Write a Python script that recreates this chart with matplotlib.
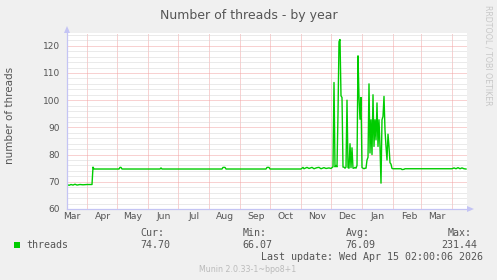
import matplotlib
matplotlib.use('Agg')
import matplotlib.pyplot as plt
import matplotlib.patches as mpatches
import matplotlib.lines as mlines
import pandas as pd

dates = [
    '2025-03-12', '2025-03-14', '2025-03-16', '2025-03-18', '2025-03-20', '2025-03-22',
    '2025-03-25', '2025-03-28', '2025-04-01', '2025-04-06', '2025-04-07', '2025-04-08',
    '2025-05-03', '2025-05-04', '2025-05-05', '2025-05-06', '2025-06-13', '2025-06-14',
    '2025-06-15', '2025-08-14', '2025-08-15', '2025-08-17', '2025-08-18', '2025-09-27',
    '2025-09-28', '2025-09-30', '2025-10-01', '2025-11-01', '2025-11-03', '2025-11-04',
    '2025-11-07', '2025-11-09', '2025-11-12', '2025-11-14', '2025-11-17', '2025-11-19',
    '2025-11-21', '2025-11-24', '2025-11-26', '2025-11-29', '2025-12-01',
    # december / january spikes
    '2025-12-02', '2025-12-03', '2025-12-04', '2025-12-05', '2025-12-06', '2025-12-07',
    '2025-12-08', '2025-12-09', '2025-12-10', '2025-12-11', '2025-12-12', '2025-12-13',
    '2025-12-14', '2025-12-15', '2025-12-16', '2025-12-17', '2025-12-18', '2025-12-19',
    '2025-12-20', '2025-12-21', '2025-12-22', '2025-12-23', '2025-12-24', '2025-12-25',
    '2025-12-26', '2025-12-27', '2025-12-28', '2025-12-29', '2025-12-30', '2025-12-31',
    '2026-01-01', '2026-01-02', '2026-01-03', '2026-01-04', '2026-01-05', '2026-01-06',
    '2026-01-07', '2026-01-08', '2026-01-09', '2026-01-10', '2026-01-11', '2026-01-12',
    '2026-01-13', '2026-01-14', '2026-01-15', '2026-01-16', '2026-01-17', '2026-01-18',
    '2026-01-19', '2026-01-20', '2026-01-21', '2026-01-22', '2026-01-23', '2026-01-24',
    '2026-01-25', '2026-01-26', '2026-01-27', '2026-01-28', '2026-01-29', '2026-01-30',
    '2026-01-31',
    # back to normal
    '2026-02-01', '2026-02-09', '2026-02-10', '2026-02-12', '2026-02-13', '2026-04-01',
    '2026-04-03', '2026-04-05', '2026-04-07', '2026-04-09', '2026-04-11', '2026-04-13',
    '2026-04-15',
]
threads = [
    69.0, 68.7, 69.0, 68.8, 69.1, 68.8,
    69.0, 68.9, 69.0, 69.0, 75.4, 74.7,
    74.7, 75.3, 75.3, 74.7, 74.7, 75.1,
    74.7, 74.7, 75.3, 75.3, 74.7, 74.7,
    75.3, 75.3, 74.7, 74.7, 75.3, 74.8,
    75.3, 74.9, 75.3, 74.8, 75.2, 75.3,
    74.8, 75.2, 74.9, 75.1, 74.9,
    75.2, 75.5, 106.5, 75.5, 76.0, 75.5,
    95.0, 121.5, 122.3, 101.6, 101.0, 75.4,
    75.4, 75.0, 75.4, 100.0, 75.2, 75.0,
    84.0, 75.2, 82.5, 75.0, 75.0, 75.3,
    75.0, 76.0, 116.3, 101.0, 93.0, 101.0,
    75.2, 75.0, 74.8, 75.0, 75.0, 78.0,
    79.0, 106.0, 80.6, 92.8, 80.0, 102.0,
    83.0, 92.8, 85.4, 99.0, 83.0, 92.8,
    83.0, 69.5, 92.8, 94.0, 101.4, 89.0,
    83.0, 78.0, 87.5, 83.0, 77.0, 76.5,
    74.9,
    74.8, 74.8, 74.5, 74.6, 74.8, 74.8,
    75.1, 74.8, 75.2, 74.8, 75.1, 74.8,
    74.7,
]

month_names = ['Mar', 'Apr', 'May', 'Jun', 'Jul', 'Aug', 'Sep', 'Oct', 'Nov', 'Dec', 'Jan', 'Feb', 'Mar']
legend_heads = ['Cur:', 'Min:', 'Avg:', 'Max:']
legend_vals = ['74.70', '66.07', '76.09', '231.44']

W, H = 497, 280
def fx(px):
    return px / W
def fy(py):
    return 1 - py / H

bg = '#f0f0f0'
txt = '#555555'
green = '#00cc00'
axis_col = '#c4c4f4'

fig = plt.figure(figsize=(W / 100, H / 100), dpi=100, facecolor=bg)
ax = fig.add_axes([fx(67), fy(209), 400 / W, 176 / H])
ax.set_facecolor('white')

x = pd.to_datetime(dates)
ax.plot(x, threads, color=green, lw=1.0)

ax.set_xlim(pd.Timestamp('2025-03-12'), pd.Timestamp('2026-04-16'))
ax.set_ylim(60, 124.7)

# month boundaries -> red grid, mid-month -> labels
month_starts = pd.date_range('2025-04-01', '2026-04-01', freq='MS')
label_pos = pd.date_range('2025-03-01', periods=13, freq='MS') + pd.Timedelta(days=16)
ax.set_xticks(month_starts)
ax.set_xticklabels([])
ax.set_xticks(label_pos, minor=True)
ax.set_xticklabels(month_names, minor=True)
ax.set_yticks(range(60, 121, 10))
ax.set_yticks(range(62, 125, 2), minor=True)

ax.tick_params(which='both', length=0, colors=txt)
ax.tick_params(axis='y', labelsize=6.5, pad=5)
ax.tick_params(axis='x', which='minor', labelsize=6.7, pad=2.5)

ax.set_axisbelow(True)
ax.grid(which='major', color='#f2a4a4', linestyle=(0, (1, 1)), lw=0.72)
ax.grid(which='minor', axis='y', color='#d6d6d6', linestyle=(0, (1, 1)), lw=0.72)

for s in ['top', 'right', 'left', 'bottom']:
    ax.spines[s].set_visible(False)

# axis lines with little arrows, rrdtool style
fig.add_artist(mlines.Line2D([fx(67), fx(67)], [fy(209), fy(29)], color=axis_col, lw=0.9))
fig.add_artist(mlines.Line2D([fx(67), fx(470)], [fy(209), fy(209)], color=axis_col, lw=0.9))
fig.add_artist(mpatches.Polygon([[fx(64), fy(33)], [fx(70), fy(33)], [fx(67), fy(26)]],
                                closed=True, color=axis_col, lw=0))
fig.add_artist(mpatches.Polygon([[fx(467), fy(206)], [fx(467), fy(212)], [fx(474), fy(209)]],
                                closed=True, color=axis_col, lw=0))

fig.text(fx(249), fy(18.5), 'Number of threads - by year', ha='center', va='baseline',
         fontsize=9, color=txt)
fig.text(fx(10.5), fy(115), 'number of threads', rotation=90, ha='center', va='center',
         fontsize=7.5, color=txt)
fig.text(fx(488.3), fy(5), 'RRDTOOL / TOBI OETIKER', rotation=270, ha='center', va='top',
         fontsize=5.7, color='#c8c8c8')

# legend
mono = 'DejaVu Sans Mono'
fig.add_artist(mpatches.Rectangle((fx(14), fy(248)), 6 / W, 6 / H, color=green, lw=0))
fig.text(fx(26.7), fy(245.5), 'threads', ha='left', va='center', fontsize=7.2,
         family=mono, color=txt)
for i in range(4):
    right = 170 + i * 102.5
    fig.text(fx(right - 29.5), fy(233), legend_heads[i], ha='left', va='center',
             fontsize=7.2, family=mono, color=txt)
    fig.text(fx(right), fy(245.5), legend_vals[i], ha='right', va='center',
             fontsize=7.2, family=mono, color=txt)
fig.text(fx(483), fy(257.5), 'Last update: Wed Apr 15 02:00:06 2026', ha='right',
         va='center', fontsize=7.2, family=mono, color=txt)
fig.text(fx(248), fy(269), 'Munin 2.0.33-1~bpo8+1', ha='center', va='center',
         fontsize=5.7, color='#bbbbbb')

fig.savefig('out.png', dpi=100, facecolor=bg)
